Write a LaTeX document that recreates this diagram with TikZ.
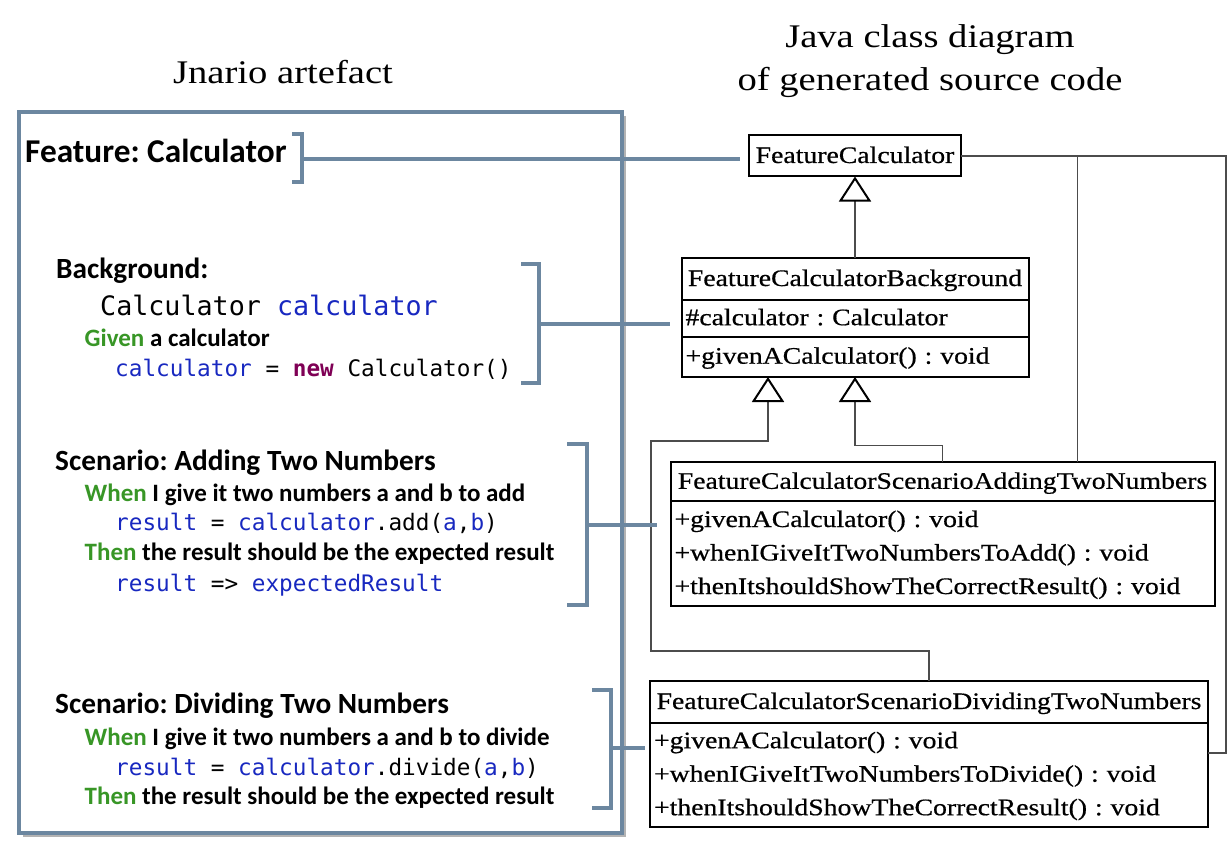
\documentclass[tikz,border=0pt]{standalone}
\usepackage{fontspec}
\usepackage{tikz}
\usetikzlibrary{positioning,calc,arrows.meta,shadows}

\newfontfamily\umlfont{Liberation Serif}[FakeStretch=1.17]
\newfontfamily\clsfont{Liberation Serif}[FakeStretch=1.17,FakeBold=0.6]
\newfontfamily\gherkin{Carlito}
\newfontfamily\codefont{DejaVu Sans Mono}
\frenchspacing

\definecolor{slate}{RGB}{108,135,160}
\definecolor{kwgreen}{RGB}{56,150,38}
\definecolor{varblue}{RGB}{24,40,192}
\definecolor{newpurple}{RGB}{127,0,85}

\newcommand{\kw}[1]{{\color{kwgreen}#1}}
\newcommand{\cv}[1]{{\color{varblue}#1}}

\tikzset{
  cls/.style={draw,line width=2pt,outer sep=0pt,inner sep=0pt,fill=white,font=\clsfont\fontsize{23.7}{33.5}\selectfont},
  clsname/.style={cls,text height=18pt,text depth=4pt},
  members/.style={cls,align=left,inner xsep=4pt,execute at begin node=\strut,execute at end node=\strut},
  gen/.style={draw=black!70,line width=1.3pt,-{Triangle[open,length=25pt,width=32pt,line width=2pt,color=black]}},
  assoc/.style={draw=black!70,line width=1.3pt},
  artefact/.style={draw=slate,line width=3.5pt,fill=white,drop shadow={shadow xshift=4pt,shadow yshift=-4pt,fill=black!50,opacity=.6}},
  bracket/.style={draw=slate,line width=4pt},
  link/.style={draw=slate,line width=3.5pt},
  title/.style={inner sep=0pt,font=\umlfont\fontsize{33}{43}\selectfont},
  gk/.style={inner sep=0pt,anchor=base west,font=\gherkin\bfseries\fontsize{25}{29}\selectfont},
  gkhead/.style={gk,font=\gherkin\bfseries\fontsize{29.3}{33}\selectfont},
  code/.style={inner sep=0pt,anchor=base west,font=\codefont\fontsize{22.7}{26}\selectfont}
}

\begin{document}
\begin{tikzpicture}[x=1pt,y=-1pt]
  \useasboundingbox (0,0) rectangle (1232,848);

  % Jnario side
  \node[artefact,minimum width=603pt,minimum height=721pt] (art) at (320.5,472.5) {};
  \node[title,anchor=base] (jnario) at (283,84) {Jnario artefact};

  \node[gkhead,font=\gherkin\bfseries\fontsize{33.3}{37}\selectfont] (feat) at (25,163) {Feature: Calculator};
  \node[gkhead] (bghead) at (56,278)   {Background:};
  \node[code,font=\codefont\fontsize{26.7}{30}\selectfont] (decl) at (100,315) {Calculator \cv{calculator}};
  \node[gk]     (given)  at (84.5,346) {\kw{Given} a calculator};
  \node[code]   (init)   at (115,376)  {\cv{calculator} = {\color{newpurple}\bfseries new} Calculator()};
  \node[gkhead] (sc1)    at (55,470)   {Scenario: Adding Two Numbers};
  \node[gk]     (when1)  at (84.5,501) {\kw{When} I give it two numbers a and b to add};
  \node[code]   (add)    at (115,530)  {\cv{result} = \cv{calculator}.add(\cv{a},\cv{b})};
  \node[gk]     (then1)  at (84.5,560) {\kw{Then} the result should be the expected result};
  \node[code]   (check)  at (115,591)  {\cv{result} => \cv{expectedResult}};
  \node[gkhead] (sc2)    at (55,713)   {Scenario: Dividing Two Numbers};
  \node[gk]     (when2)  at (84.5,745) {\kw{When} I give it two numbers a and b to divide};
  \node[code]   (div)    at (115,775)  {\cv{result} = \cv{calculator}.divide(\cv{a},\cv{b})};
  \node[gk]     (then2)  at (84.5,804) {\kw{Then} the result should be the expected result};

  % class diagram side
  \node[title,align=center,anchor=north] (javat) at (930,24.5) {Java class diagram\\of generated source code};

  \node[clsname,minimum width=212pt,minimum height=41pt] (fc)     at (855,156) {FeatureCalculator};
  \node[clsname,minimum width=347pt,minimum height=42pt] (bgname) at (855,279) {FeatureCalculatorBackground};
  \node[members,text width=339pt,minimum height=37pt]    (bgattr) [below=0pt of bgname] {\#calculator : Calculator};
  \node[members,text width=339pt,minimum height=40pt]    (bgops)  [below=0pt of bgattr] {+givenACalculator() : void};
  \node[clsname,minimum width=544pt,minimum height=39pt] (addname) at (942.5,481.8) {FeatureCalculatorScenarioAddingTwoNumbers};
  \node[members,text width=536pt,minimum height=105pt]   (addops) [below=0pt of addname]
    {+givenACalculator() : void\\+whenIGiveItTwoNumbersToAdd() : void\\+thenItshouldShowTheCorrectResult() : void};
  \node[clsname,minimum width=558pt,minimum height=42pt] (divname) at (929,702) {FeatureCalculatorScenarioDividingTwoNumbers};
  \node[members,text width=550pt,minimum height=104pt]   (divops) [below=0pt of divname]
    {+givenACalculator() : void\\+whenIGiveItTwoNumbersToDivide() : void\\+thenItshouldShowTheCorrectResult() : void};

  \path[gen] (bgname.north) -- (fc.south);
  \path[gen] (addname.north) -- ++(0,-17) -| (bgops.south);
  \path[gen] (divname.north) -- ++(0,-30) -| ++(-278,-210) -| ($(bgops.south)+(-87,0)$);

  \coordinate (j) at ($(fc.east)+(116.5,0)$);
  \path[assoc] (fc.east) -- ++(265,0) |- ($(divops.north east)+(0,30)$);
  \path[assoc] (j) -- (j |- addname.north);

  % brackets and links
  \coordinate (bF) at (302,159);
  \coordinate (bB) at (539,324);
  \coordinate (bA) at (587,525);
  \coordinate (bD) at (611,748);

  \draw[bracket] ($(bF)+(-10,-25)$) -| ($(bF)+(0,23)$) -- ++(-10,0);
  \draw[bracket] ($(bB)+(-18,-60)$) -| ($(bB)+(0,59)$) -- ++(-18,0);
  \draw[bracket] ($(bA)+(-20,-81)$) -| ($(bA)+(0,80)$) -- ++(-20,0);
  \draw[bracket] ($(bD)+(-19,-58)$) -| ($(bD)+(0,60)$) -- ++(-19,0);

  \path[link] (bF) edge [shorten >=9.5pt] (bF -| fc.west)
              (bB) edge [shorten >=12pt]  (bB -| bgattr.west)
              (bA) edge [shorten >=14pt]  (bA -| addops.west)
              (bD) edge [shorten >=5pt]   (bD -| divops.west);
\end{tikzpicture}
\end{document}
